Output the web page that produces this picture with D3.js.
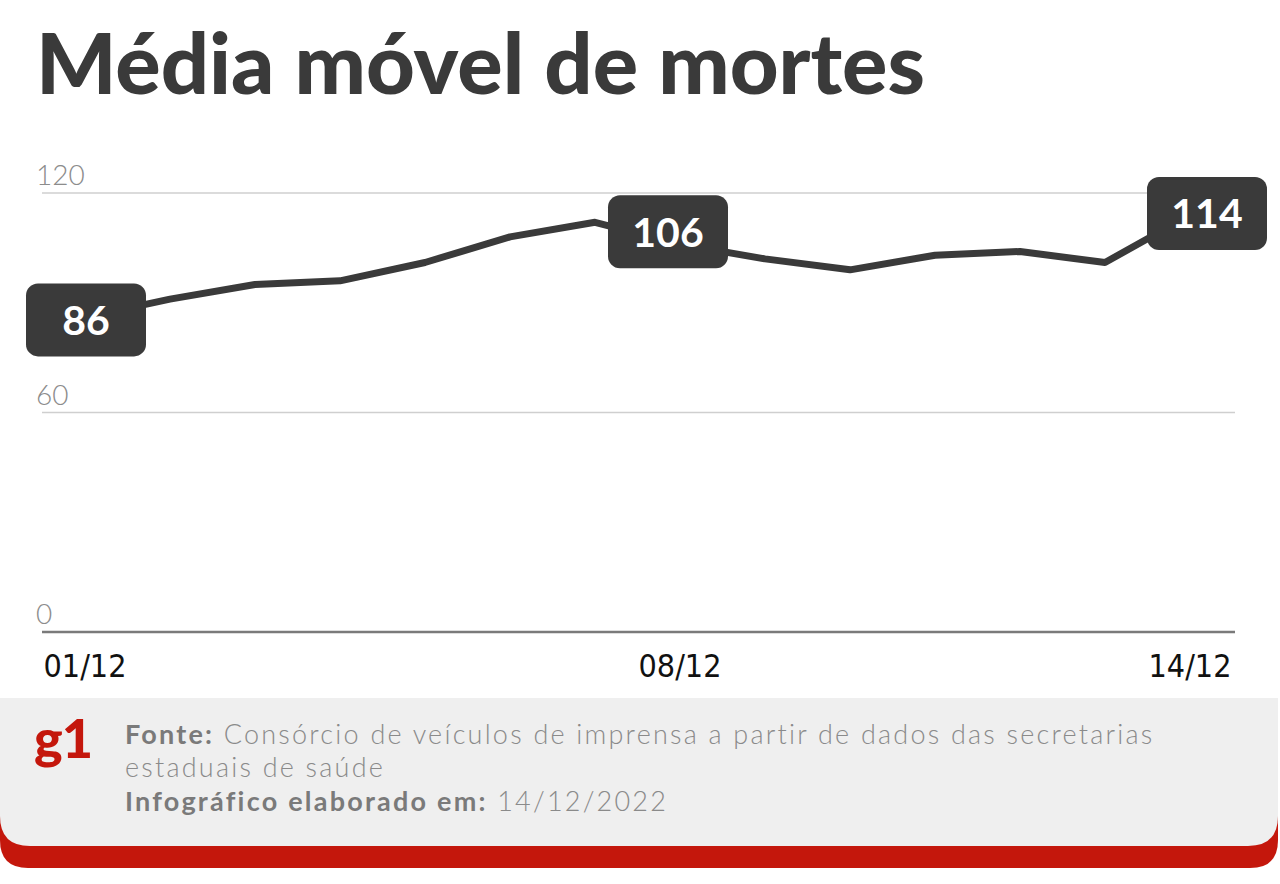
<!DOCTYPE html>
<html>
<head>
<meta charset="utf-8">
<script src="https://cdn.jsdelivr.net/npm/d3@7"></script>
<style>
  html, body { margin: 0; padding: 0; background: #ffffff; }
  svg { display: block; }
</style>
</head>
<body>
<svg id="chart" width="1280" height="884"></svg>
<script>
// ---- data ----
const dates = ["01/12","02/12","03/12","04/12","05/12","06/12","07/12","08/12","09/12","10/12","11/12","12/12","13/12","14/12"];
const values = [86, 91, 95, 96, 101, 108, 112, 106, 102, 99, 103, 104, 101, 114];
const xTickLabels = ["01/12", "08/12", "14/12"];
const yTicks = [0, 60, 120];
const labelDates = ["01/12", "08/12", "14/12"];
const titleText = "Média móvel de mortes";
const sourceLabel = "Fonte:";
const sourceText = " Consórcio de veículos de imprensa a partir de dados das secretarias";
const sourceText2 = "estaduais de saúde";
const madeLabel = "Infográfico elaborado em:";
const madeText = " 14/12/2022";

// ---- layout ----
const svg = d3.select("#chart");
const x = d3.scalePoint().domain(dates).range([85, 1190]);
const y = d3.scaleLinear().domain([0, 120]).range([632, 193]);
const dark = "#3a3a3a";
const red = "#c4170c";

function fitWidth(sel, target) {
  const node = sel.node();
  const fs = parseFloat(sel.attr("font-size"));
  const w = node.getComputedTextLength();
  if (w > 0) sel.attr("font-size", (fs * target / w).toFixed(2));
  return sel;
}
function spreadWidth(sel, target) {
  const node = sel.node();
  const w = node.getComputedTextLength();
  const n = node.textContent.length;
  if (w > 0 && n > 1) sel.attr("letter-spacing", ((target - w) / n).toFixed(3));
  return sel;
}

// title
const title = svg.append("text")
  .attr("x", 36).attr("y", 94)
  .attr("font-family", "Lato, 'Noto Sans', sans-serif")
  .attr("font-weight", 900)
  .attr("font-size", 68)
  .attr("fill", dark)
  .text(titleText);
fitWidth(title, 889);

// grid lines + y labels
const gridG = svg.append("g");
yTicks.forEach(v => {
  gridG.append("line")
    .attr("x1", 42).attr("x2", 1235)
    .attr("y1", y(v)).attr("y2", y(v))
    .attr("stroke", v === 0 ? "#7a7a7a" : "#cfcfcf")
    .attr("stroke-width", v === 0 ? 2.5 : 1.5);
  gridG.append("text")
    .attr("x", 36).attr("y", y(v) - 8)
    .attr("font-family", "Lato, 'Open Sans', sans-serif")
    .attr("font-weight", 300)
    .attr("font-size", 28)
    .attr("fill", "#8c8c8c")
    .text(v);
});

// x labels
svg.append("g").selectAll("text")
  .data(xTickLabels).join("text")
  .attr("x", d => x(d)).attr("y", 677)
  .attr("text-anchor", "middle")
  .attr("font-family", "'Liberation Sans Narrow', 'DejaVu Sans Condensed', 'Roboto Condensed', sans-serif")
  .attr("font-size", 32)
  .attr("fill", "#111")
  .text(d => d);

// line
const line = d3.line()
  .x((d, i) => x(dates[i]))
  .y(d => y(d))
  .curve(d3.curveLinear);
svg.append("path")
  .datum(values)
  .attr("d", line)
  .attr("fill", "none")
  .attr("stroke", dark)
  .attr("stroke-width", 7)
  .attr("stroke-linejoin", "round")
  .attr("stroke-linecap", "round");

// value labels
const labelOffset = { "01/12": [1, 2.5], "08/12": [-12, -12.5], "14/12": [17, -1.5] };
const boxW = 120, boxH = 73;
labelDates.forEach(dt => {
  const i = dates.indexOf(dt);
  const cx = x(dt) + labelOffset[dt][0];
  const cy = y(values[i]) + labelOffset[dt][1];
  svg.append("rect")
    .attr("x", cx - boxW / 2).attr("y", cy - boxH / 2)
    .attr("width", boxW).attr("height", boxH)
    .attr("rx", 12).attr("ry", 12)
    .attr("fill", dark);
  svg.append("text")
    .attr("x", cx).attr("y", cy + 15)
    .attr("text-anchor", "middle")
    .attr("font-family", "Lato, 'Noto Sans', sans-serif")
    .attr("font-weight", 700)
    .attr("font-size", 41)
    .attr("fill", "#ffffff")
    .text(values[i]);
});

// footer
const fTop = 698, fRight = 1278;
function bottomRounded(x0, y0, x1, y1, rad) {
  return `M${x0},${y0} H${x1} V${y1 - rad} Q${x1},${y1} ${x1 - rad},${y1} H${x0 + rad} Q${x0},${y1} ${x0},${y1 - rad} Z`;
}
svg.append("path").attr("d", bottomRounded(0, fTop, fRight, 868, 28)).attr("fill", red);
svg.append("path").attr("d", bottomRounded(0, fTop, fRight, 846, 30)).attr("fill", "#efefef");

// g1 logo
svg.append("text")
  .attr("x", 34).attr("y", 758)
  .attr("font-family", "Lato, 'Noto Sans', sans-serif")
  .attr("font-weight", 900)
  .attr("font-size", 54)
  .attr("letter-spacing", -1)
  .attr("fill", red)
  .text("g1");

// footer text
const ff = "Lato, 'Noto Sans', sans-serif";
const fsz = 27;
const l1 = svg.append("text").attr("x", 125).attr("y", 744)
  .attr("font-family", ff).attr("font-size", fsz).attr("fill", "#8a8a8a");
l1.append("tspan").attr("font-weight", 700).attr("fill", "#7a7a7a").text(sourceLabel);
l1.append("tspan").attr("font-weight", 300).text(sourceText);
spreadWidth(l1, 1030);
const ls = l1.attr("letter-spacing");
svg.append("text").attr("x", 125).attr("y", 777)
  .attr("font-family", ff).attr("font-size", fsz).attr("font-weight", 300)
  .attr("letter-spacing", ls)
  .attr("fill", "#8a8a8a").text(sourceText2);
const l3 = svg.append("text").attr("x", 125).attr("y", 811)
  .attr("font-family", ff).attr("font-size", fsz).attr("fill", "#8a8a8a")
  .attr("letter-spacing", ls);
l3.append("tspan").attr("font-weight", 700).attr("fill", "#7a7a7a").text(madeLabel);
l3.append("tspan").attr("font-weight", 300).text(madeText);
</script>
</body>
</html>
